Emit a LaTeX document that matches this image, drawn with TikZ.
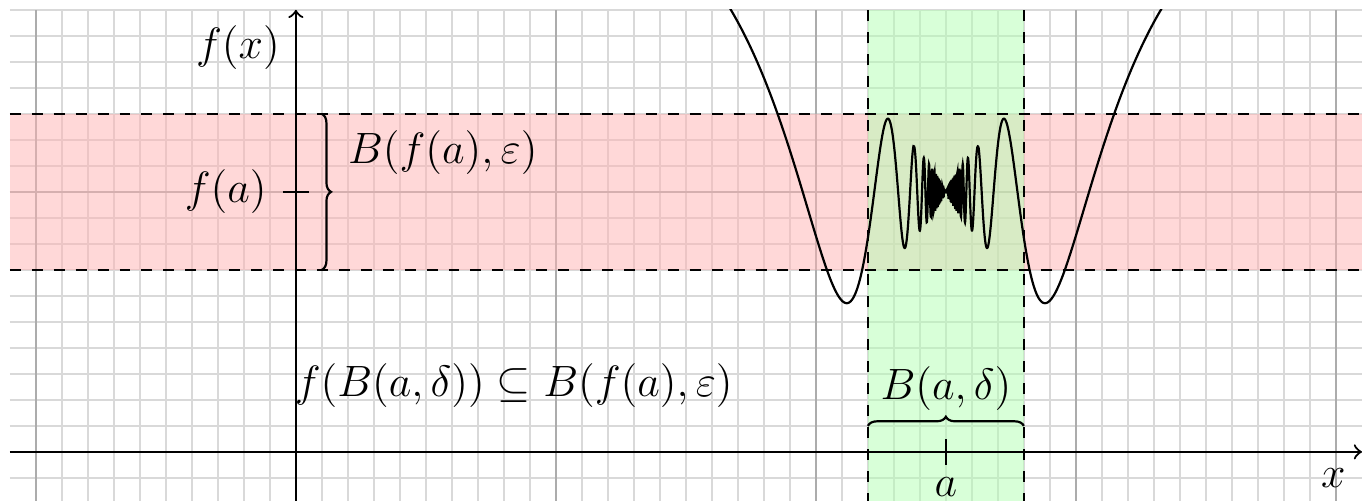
\documentclass[tikz,border=0pt]{standalone}
\usepackage{amsmath}
\usepackage{amssymb}
\usepackage{xcolor}
\usepackage{tikz}
\usetikzlibrary{decorations.pathreplacing, calc}

\begin{document}
\begin{tikzpicture}[
    x=2.5cm, y=2.5cm,
    minorgrid/.style={gray!30, line width=0.4pt},
    majorgrid/.style={gray!65, line width=0.6pt},
    band/.style={fill opacity=0.5},
    bound/.style={dashed, semithick},
    curly/.style={decorate, decoration={brace, amplitude=2.5pt}, semithick},
    mathlbl/.style={font=\large}
]
\useasboundingbox (-1.138,-0.188) rectangle (4.112,1.738);

% Grid
\draw[minorgrid, step=0.1] (-1.1,-0.2) grid (4.1,1.7);
\draw[majorgrid, step=1] (-1.1,-0.2) grid (4.1,1.7);

% Neighbourhoods
\coordinate (epslo) at (-1.1,0.7);
\coordinate (epshi) at (4.1,1.3);
\coordinate (dello) at (2.2,-0.2);
\coordinate (delhi) at (2.8,1.7);
\fill[red!30, band] (epslo) rectangle (epshi);
\fill[green!30, band] (dello) rectangle (delhi);
\draw[bound] (epslo |- epshi) -- (epshi);
\draw[bound] (epslo) -- (epshi |- epslo);
\draw[bound] (dello) -- (dello |- delhi);
\draw[bound] (delhi |- dello) -- (delhi);

% Axes
\coordinate (xstart) at (-1.1,0);
\coordinate (xend) at (4.1,0);
\coordinate (ystart) at (0,-0.2);
\coordinate (yend) at (0,1.7);
\draw[->, semithick] (xstart) -- (xend);
\draw[->, semithick] (ystart) -- (yend);

% Function
\begin{scope}
\clip (-1.1,-0.2) rectangle (4.1,1.7);
\draw[semithick, samples=1200, domain=1.6:2.493]
    plot (\x, {1+0.94*pow(abs(\x-2.5),0.8)*sin(deg(1.73/abs(\x-2.5)))})
    -- (2.5,1) --
    plot[samples=1200, domain=2.507:3.4]
    (\x, {1+0.94*pow(abs(\x-2.5),0.8)*sin(deg(1.73/abs(\x-2.5)))});
\end{scope}

% Braces and ticks
\draw[curly] (0.1,1.3) -- (0.1,0.7);
\draw[curly] (2.2,0.1) -- (2.8,0.1);
\draw[semithick] (-0.05,1) -- (0.05,1);
\draw[semithick] (2.5,-0.05) -- (2.5,0.05);

% Labels
\node[mathlbl] (fx) at (-0.223,1.554) {$f(x)$};
\node[mathlbl] (fa) at (-0.27,1) {$f(a)$};
\node[mathlbl] (ballfa) at (0.565,1.152) {$B(f(a),\varepsilon)$};
\node[mathlbl] (incl) at (0.838,0.254) {$f(B(a,\delta)) \subseteq B(f(a),\varepsilon)$};
\node[mathlbl] (balla) at (2.5,0.242) {$B(a,\delta)$};
\node[mathlbl] (pta) at (2.5,-0.135) {$a$};
\node[mathlbl] (xlbl) at (3.99,-0.1) {$x$};

\end{tikzpicture}
\end{document}
